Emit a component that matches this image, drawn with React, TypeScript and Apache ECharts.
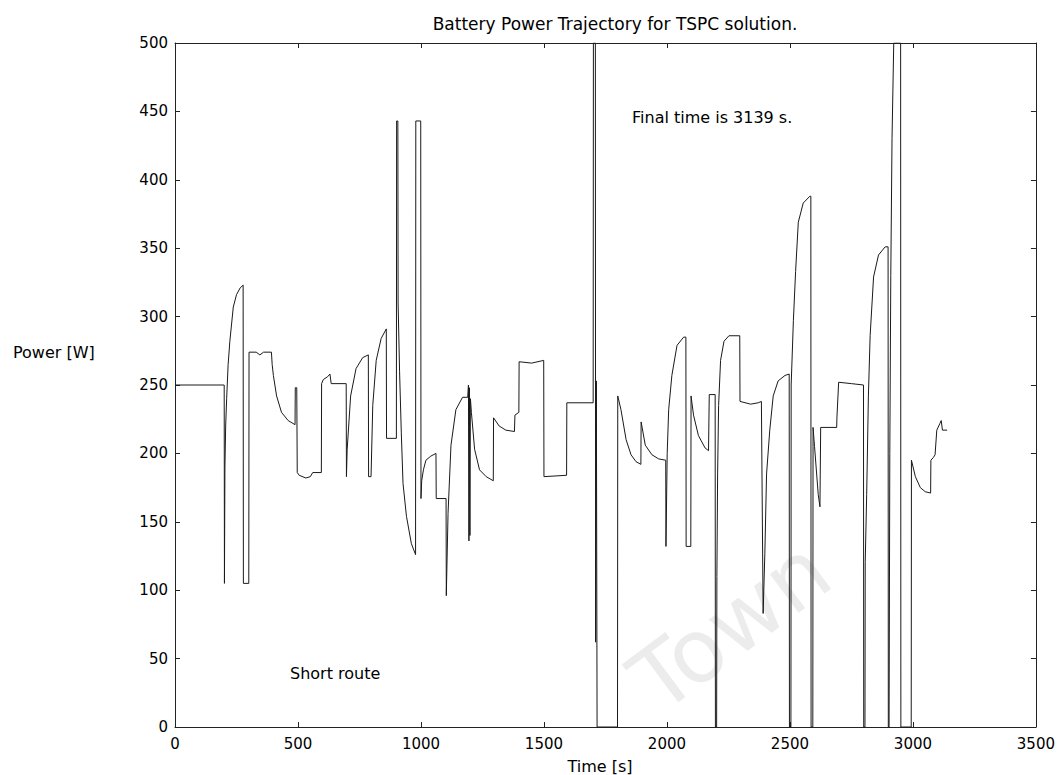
import React, { useEffect, useRef } from "react";
import * as echarts from "echarts";

const chartTitle = "Battery Power Trajectory for TSPC solution.";
const xName = "Time [s]";
const yName = "Power [W]";
const noteFinal = "Final time is 3139 s.";
const noteRoute = "Short route";
const watermark = "Town";

const xTicks = { min: 0, max: 3500, interval: 500 };
const yTicks = { min: 0, max: 500, interval: 50 };

const timeS = [
  0, 200, 201, 203, 206, 210, 216, 223, 237, 250, 265, 277, 278, 300, 301, 330, 345, 360, 392, 395,
  400, 413, 433, 460, 488, 489, 495, 497, 505, 532, 550, 560, 595, 596, 603, 620, 630, 635, 696, 697,
  700, 714, 736, 763, 786, 787, 797, 804, 818, 838, 859, 860, 900, 901, 906, 907, 913, 920, 927, 941,
  961, 978, 979, 999, 1000, 1003, 1010, 1020, 1040, 1061, 1062, 1102, 1103, 1110, 1122, 1142, 1169, 1190, 1193, 1195,
  1197, 1199, 1201, 1205, 1218, 1238, 1265, 1294, 1295, 1318, 1345, 1380, 1382, 1398, 1399, 1450, 1499, 1500, 1592, 1593,
  1700, 1701, 1709, 1710, 1713, 1716, 1799, 1800, 1813, 1834, 1854, 1874, 1894, 1895, 1912, 1939, 1966, 1995, 1996, 2001,
  2007, 2020, 2041, 2068, 2077, 2078, 2097, 2098, 2108, 2128, 2155, 2169, 2172, 2196, 2197, 2202, 2203, 2206, 2210, 2218,
  2232, 2252, 2296, 2297, 2340, 2371, 2384, 2391, 2398, 2405, 2418, 2432, 2452, 2480, 2497, 2498, 2504, 2505, 2514, 2523,
  2534, 2554, 2581, 2585, 2586, 2593, 2594, 2600, 2615, 2622, 2625, 2690, 2691, 2698, 2750, 2799, 2800, 2805, 2806, 2812,
  2819, 2826, 2840, 2860, 2887, 2899, 2900, 2903, 2906, 2910, 2915, 2922, 2950, 2951, 2993, 2994, 3010, 3030, 3050, 3072,
  3073, 3083, 3090, 3097, 3110, 3115, 3120, 3130, 3139,
];

const powerW = [
  250, 250, 105, 190, 220, 240, 265, 282, 307, 316, 321, 323, 105, 105, 274, 274, 272, 274, 274, 265,
  257, 242, 230, 224, 221, 248, 248, 186, 184, 182, 183, 186, 186, 251, 254, 256, 258, 251, 251, 183,
  203, 242, 262, 270, 272, 183, 183, 235, 268, 284, 291, 211, 211, 443, 443, 310, 260, 215, 178, 154,
  134, 126, 443, 443, 167, 180, 188, 195, 198, 200, 167, 167, 96, 156, 206, 232, 241, 241, 250, 136,
  248, 140, 240, 230, 203, 188, 183, 180, 226, 220, 217, 216, 228, 230, 267, 266, 268, 183, 184, 237,
  237, 500, 500, 62, 253, 0, 0, 242, 232, 210, 199, 194, 192, 223, 206, 199, 196, 195, 132, 200,
  232, 257, 279, 285, 285, 132, 132, 242, 228, 213, 204, 202, 243, 243, 0, 0, 110, 185, 235, 268,
  282, 286, 286, 238, 236, 237, 238, 83, 127, 185, 217, 242, 253, 257, 258, 0, 0, 250, 297, 333,
  369, 383, 388, 388, 0, 0, 219, 205, 170, 161, 219, 219, 226, 252, 251, 250, 0, 0, 120, 170,
  242, 286, 329, 345, 351, 351, 0, 0, 200, 330, 430, 500, 500, 0, 0, 195, 183, 175, 172, 171,
  195, 197, 199, 217, 222, 224, 217, 217, 217,
];

const FONT = "DejaVu Sans";

export default function App() {
  const ref = useRef<HTMLDivElement>(null);

  useEffect(() => {
    document.body.style.margin = "0";
    if (!ref.current) return;
    const chart = echarts.init(ref.current, undefined, { renderer: "svg" });

    const axisCommon = {
      type: "value" as const,
      axisLine: { show: true, onZero: false, lineStyle: { color: "#222", width: 1 } },
      axisTick: { show: true, inside: true, length: 5, lineStyle: { color: "#222" } },
      splitLine: { show: false },
    };
    const fmt = (v: number) => String(v);

    const option = {
      animation: false,
      backgroundColor: "#fff",
      grid: { left: 175, right: 21, top: 43, bottom: 48, show: false },
      xAxis: [
        {
          ...axisCommon,
          ...xTicks,
          position: "bottom",
          axisLabel: { margin: 9, fontFamily: FONT, fontSize: 15, color: "#000", formatter: fmt },
        },
        {
          ...axisCommon,
          ...xTicks,
          position: "top",
          axisLabel: { show: false },
        },
      ],
      yAxis: [
        {
          ...axisCommon,
          ...yTicks,
          position: "left",
          axisLabel: { margin: 7, fontFamily: FONT, fontSize: 15, color: "#000", formatter: fmt },
        },
        {
          ...axisCommon,
          ...yTicks,
          position: "right",
          axisLabel: { show: false },
        },
      ],
      series: [
        {
          type: "line",
          xAxisIndex: 0,
          yAxisIndex: 0,
          data: timeS.map((t, i) => [t, powerW[i]]),
          showSymbol: false,
          symbol: "none",
          lineStyle: { color: "#1a1a1a", width: 1 },
          clip: true,
          z: 3,
        },
      ],
      graphic: [
        {
          type: "text",
          z: 0,
          x: 845,
          y: 595,
          rotation: 0.64,
          style: {
            text: watermark,
            fontFamily: FONT,
            fontSize: 88,
            fill: "#ececec",
            align: "right",
            verticalAlign: "bottom",
          },
        },
        {
          type: "text",
          x: 615,
          y: 24,
          style: { text: chartTitle, fontFamily: FONT, fontSize: 17, fill: "#000", align: "center", verticalAlign: "middle" },
        },
        {
          type: "text",
          x: 13,
          y: 352,
          style: { text: yName, fontFamily: FONT, fontSize: 16, fill: "#000", align: "left", verticalAlign: "middle" },
        },
        {
          type: "text",
          x: 600,
          y: 766,
          style: { text: xName, fontFamily: FONT, fontSize: 16, fill: "#000", align: "center", verticalAlign: "middle" },
        },
        {
          type: "text",
          x: 632,
          y: 117,
          style: { text: noteFinal, fontFamily: FONT, fontSize: 16, fill: "#000", align: "left", verticalAlign: "middle" },
        },
        {
          type: "text",
          x: 290,
          y: 673,
          style: { text: noteRoute, fontFamily: FONT, fontSize: 16, fill: "#000", align: "left", verticalAlign: "middle" },
        },
      ],
    };

    chart.setOption(option);
    return () => chart.dispose();
  }, []);

  return <div ref={ref} style={{ width: 1058, height: 775 }} />;
}
